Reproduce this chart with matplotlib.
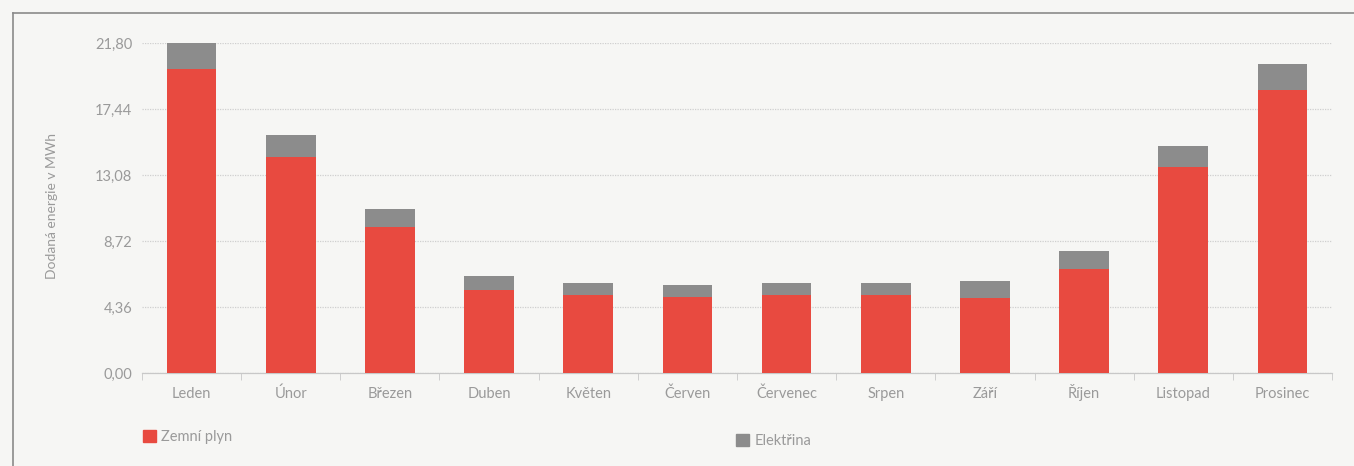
import matplotlib
matplotlib.use("Agg")
import matplotlib.pyplot as plt
import numpy as np
from matplotlib.patches import Patch
from matplotlib.lines import Line2D

months = ["Leden", "Únor", "Březen", "Duben", "Květen", "Červen",
          "Červenec", "Srpen", "Září", "Říjen", "Listopad", "Prosinec"]
gas = [20.1, 14.25, 9.65, 5.5, 5.13, 5.02, 5.13, 5.12, 4.97, 6.87, 13.6, 18.7]
electricity = [1.7, 1.45, 1.2, 0.92, 0.8, 0.8, 0.82, 0.84, 1.08, 1.17, 1.42, 1.72]
yticks = [0.0, 4.36, 8.72, 13.08, 17.44, 21.80]
series_names = ["Zemní plyn", "Elektřina"]
ylabel = "Dodaná energie v MWh"

RED = "#e84a40"
GRAY = "#8c8c8c"
TXT = "#9a9a9a"
BG = "#f6f6f4"

plt.rcParams['font.family'] = ['Lato', 'DejaVu Sans']

fig = plt.figure(figsize=(13.54, 4.66), dpi=100, facecolor=BG)
ax = fig.add_axes([142/1354, 1-373/466, (1332-142)/1354, (373-43)/466])
ax.set_facecolor(BG)

x = np.arange(len(months))
ax.bar(x, gas, width=0.5, color=RED, zorder=3)
ax.bar(x, electricity, width=0.5, bottom=gas, color=GRAY, zorder=3)

ax.set_xlim(-0.5, len(months) - 0.5)
ax.set_ylim(0, 21.8)
ax.set_yticks(yticks)
ax.set_yticklabels([f"{v:.2f}".replace(".", ",") for v in yticks], color=TXT, fontsize=10.5)
ax.set_xticks(x)
ax.set_xticklabels(months, color=TXT, fontsize=10.5, va='baseline')
ax.tick_params(axis='x', which='major', length=0, pad=18)
ax.set_xticks(np.arange(-0.5, len(months)), minor=True)
ax.tick_params(axis='x', which='minor', length=5, color="#c8c8c8", direction='out')
ax.tick_params(axis='y', length=0, pad=7)

ax.yaxis.grid(True, color="#cfcfcf", linestyle=(0, (1, 1)), linewidth=0.9, zorder=0)
for s in ["top", "right", "left"]:
    ax.spines[s].set_visible(False)
ax.spines["bottom"].set_color("#c8c8c8")
ax.spines["bottom"].set_linewidth(0.9)

fig.text(52/1354, 1-206/466, ylabel, rotation=90, color=TXT, fontsize=10,
         ha='center', va='center')

leg1 = fig.legend(handles=[Patch(color=RED, label=series_names[0])],
                  loc='center left', bbox_to_anchor=(130/1354, 1-437/466),
                  frameon=False, fontsize=10.5, labelcolor=TXT,
                  handlelength=0.9, handleheight=0.9, handletextpad=0.35)
leg2 = fig.legend(handles=[Patch(color=GRAY, label=series_names[1])],
                  loc='center left', bbox_to_anchor=(723/1354, 1-441/466),
                  frameon=False, fontsize=10.5, labelcolor=TXT,
                  handlelength=0.9, handleheight=0.9, handletextpad=0.35)

# outer frame
fig.add_artist(Line2D([13/1354, 13/1354], [0, 1-13/466], transform=fig.transFigure,
                      color="#8a8a8a", linewidth=1.2))
fig.add_artist(Line2D([13/1354, 1], [1-13/466, 1-13/466], transform=fig.transFigure,
                      color="#8a8a8a", linewidth=1.2))

fig.savefig("out.png", dpi=100, facecolor=BG)
